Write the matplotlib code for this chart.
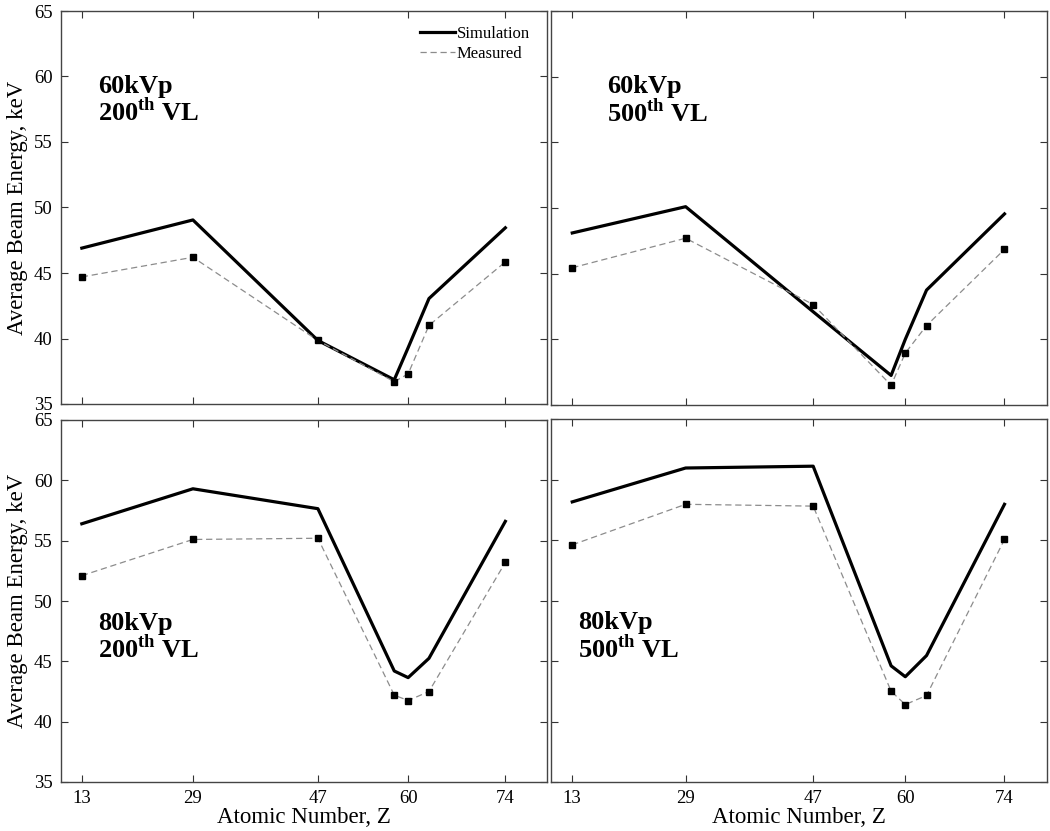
import matplotlib
matplotlib.use("Agg")
import matplotlib.pyplot as plt

plt.rcParams['font.family'] = ['Liberation Serif', 'DejaVu Serif']
plt.rcParams['mathtext.fontset'] = 'custom'
plt.rcParams['mathtext.rm'] = 'Liberation Serif'
plt.rcParams['mathtext.bf'] = 'Liberation Serif:bold'

# Atomic numbers
z_values = [13, 29, 47, 58, 60, 63, 74]
z_ticks = [13, 29, 47, 60, 74]

# Panel data (average beam energy, keV)
sim_60_200 = [46.9, 49.05, 39.85, 36.85, 39.3, 43.05, 48.45]
meas_60_200 = [44.7, 46.2, 39.85, 36.7, 37.3, 41.0, 45.85]

sim_60_500 = [48.1, 50.1, 42.1, 37.25, 40.0, 43.75, 49.55]
meas_60_500 = [45.45, 47.7, 42.65, 36.5, 38.95, 41.05, 46.85]

sim_80_200 = [56.4, 59.3, 57.65, 44.2, 43.65, 45.25, 56.6]
meas_80_200 = [52.1, 55.1, 55.2, 42.2, 41.75, 42.5, 53.2]

sim_80_500 = [58.15, 60.95, 61.1, 44.6, 43.7, 45.45, 57.95]
meas_80_500 = [54.6, 57.95, 57.8, 42.5, 41.4, 42.15, 55.05]

labels = ["60kVp\n200$^{\\mathbf{th}}$ VL", "60kVp\n500$^{\\mathbf{th}}$ VL",
          "80kVp\n200$^{\\mathbf{th}}$ VL", "80kVp\n500$^{\\mathbf{th}}$ VL"]

W, H = 1050, 831
fig = plt.figure(figsize=(W / 100, H / 100), dpi=100)

def box(l, r, t, b):
    return [l / W, 1 - b / H, (r - l) / W, (b - t) / H]

axes_pos = [box(61, 547, 11, 404), box(551, 1047, 11, 405),
            box(61, 547, 420, 782), box(551, 1047, 419, 782)]
sims = [sim_60_200, sim_60_500, sim_80_200, sim_80_500]
meas = [meas_60_200, meas_60_500, meas_80_200, meas_80_500]
text_pos = [(15.3, 60.1), (17.9, 60.1), (15.3, 49.1), (13.8, 49.1)]

for i, pos in enumerate(axes_pos):
    ax = fig.add_axes(pos)
    ax.plot(z_values, sims[i], color='black', lw=2.3, label='Simulation')
    ax.plot(z_values, meas[i], color='#8c8c8c', lw=0.9, ls=(0, (5, 3)),
            label='Measured')
    ax.plot(z_values, meas[i], ls='none', marker='s', ms=5, color='black')
    ax.set_xlim(10, 80)
    ax.set_ylim(35, 65)
    ax.set_xticks(z_ticks)
    ax.set_yticks([35, 40, 45, 50, 55, 60, 65])
    ax.tick_params(direction='in', top=True, right=True, length=5,
                   width=0.8, labelsize=13.5, pad=6, color='#333333')
    for s in ax.spines.values():
        s.set_linewidth(1.0)
        s.set_color('#444444')
    if i % 2 == 1:
        ax.set_yticklabels([])
    else:
        ax.set_ylabel('Average Beam Energy, keV', fontsize=16.5, labelpad=4)
    if i < 2:
        ax.set_xticklabels([])
    else:
        ax.set_xlabel('Atomic Number, Z', fontsize=16.5, labelpad=0)
    ax.text(text_pos[i][0], text_pos[i][1], labels[i], fontsize=19,
            fontweight='bold', va='top', ha='left', linespacing=1.0)
    if i == 0:
        h = ax.get_lines()[:2]
        ax.legend(h, ['Simulation', 'Measured'], loc='upper right',
                  frameon=False, fontsize=12, handlelength=2.1,
                  handletextpad=0.1, labelspacing=0.25,
                  bbox_to_anchor=(0.995, 1.0), borderaxespad=0.5)

fig.savefig('out.png', dpi=100)
